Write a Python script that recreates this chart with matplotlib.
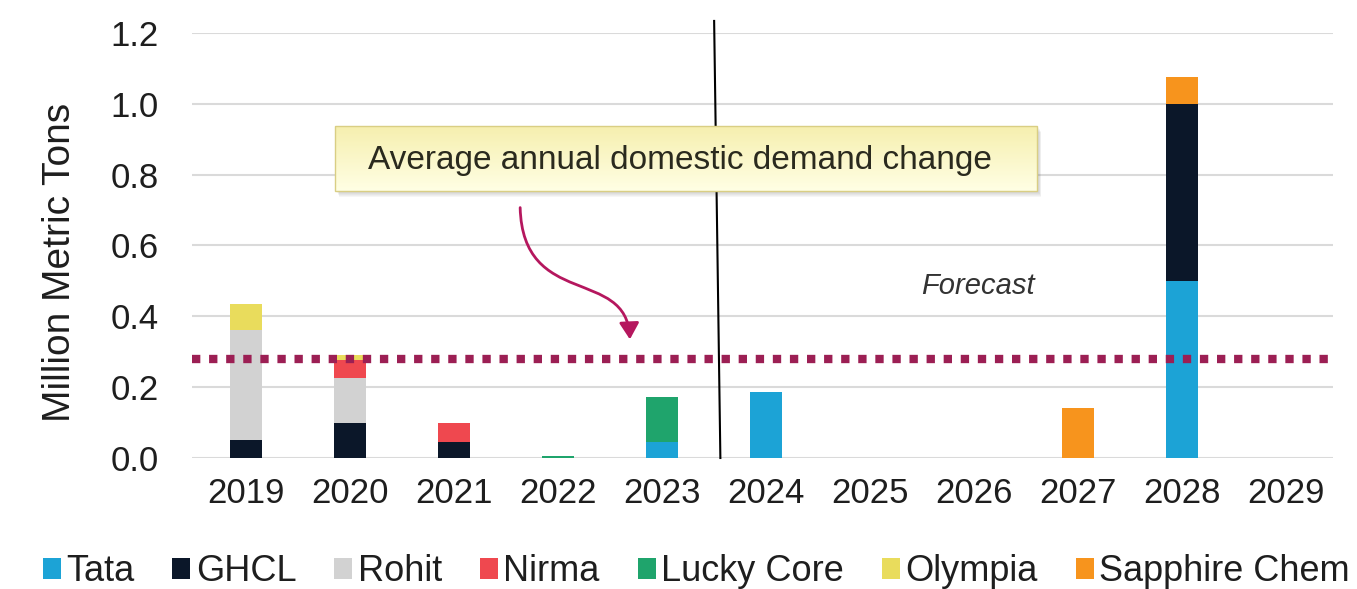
import matplotlib
matplotlib.use("Agg")
import matplotlib.pyplot as plt
import numpy as np
from matplotlib.patches import Rectangle, FancyArrowPatch, Patch
from matplotlib.path import Path
from matplotlib.colors import LinearSegmentedColormap

plt.rcParams['font.family'] = ['Liberation Sans', 'DejaVu Sans']

years = ["2019", "2020", "2021", "2022", "2023", "2024", "2025", "2026", "2027", "2028", "2029"]
companies = ["Tata", "GHCL", "Rohit", "Nirma", "Lucky Core", "Olympia", "Sapphire Chem"]
tata     = [0.00, 0.00,  0.00,  0.000, 0.045, 0.185, 0, 0, 0.00, 0.500, 0]
ghcl     = [0.05, 0.10,  0.045, 0.000, 0.000, 0.000, 0, 0, 0.00, 0.500, 0]
rohit    = [0.31, 0.125, 0.00,  0.000, 0.000, 0.000, 0, 0, 0.00, 0.000, 0]
nirma    = [0.00, 0.053, 0.055, 0.000, 0.000, 0.000, 0, 0, 0.00, 0.000, 0]
lucky    = [0.00, 0.00,  0.00,  0.007, 0.127, 0.000, 0, 0, 0.00, 0.000, 0]
olympia  = [0.075, 0.014, 0.00, 0.000, 0.000, 0.000, 0, 0, 0.00, 0.000, 0]
sapphire = [0.00, 0.00,  0.00,  0.000, 0.000, 0.000, 0, 0, 0.14, 0.075, 0]
series = [tata, ghcl, rohit, nirma, lucky, olympia, sapphire]
colors = ["#1CA3D6", "#0B1729", "#D2D2D2", "#EF484F", "#1FA46C", "#E9DC5C", "#F7941D"]
avg_demand_change = 0.28
forecast_split = 4.53

fig = plt.figure(figsize=(13.57, 5.89), dpi=100)
ax = fig.add_axes([0.1415, 0.2224, 0.8408, 0.7216])

x = np.arange(len(years))
bottom = np.zeros(len(years))
for vals, col, name in zip(series, colors, companies):
    v = np.array(vals)
    ax.bar(x, v, 0.31, bottom=bottom, color=col, label=name, zorder=3)
    bottom += v

ax.set_xlim(-0.52, 10.45)
ax.set_ylim(0, 1.2)
ax.set_yticks(np.arange(0, 1.21, 0.2))
ax.set_yticklabels([f"{t:.1f}" for t in np.arange(0, 1.21, 0.2)])
ax.set_xticks(x)
ax.set_xticklabels(years)
ax.tick_params(axis='both', length=0, labelsize=25, colors='#1E1E1E')
ax.tick_params(axis='y', pad=24)
ax.tick_params(axis='x', pad=14)
ax.grid(axis='y', color='#DADADA', lw=1.5, zorder=0)
for s in ax.spines.values():
    s.set_visible(False)
ax.set_ylabel("Million Metric Tons", fontsize=28, color='#1E1E1E')
ax.yaxis.set_label_coords(-0.1, 0.46)

# average demand line
ax.axhline(avg_demand_change, color='#9C1F54', lw=6, linestyle=(0, (1, 1.05)),
           dash_capstyle='butt', zorder=4)

# forecast divider
ax.plot([forecast_split - 0.03, forecast_split + 0.03], [1.234, 0], color='black',
        lw=1.5, clip_on=False, zorder=4)
ax.text(7.04, 0.487, "Forecast", fontsize=21, style='italic', color='#333333',
        ha='center', va='center', zorder=6)

# callout box with soft shadow and gradient
bx0, bx1, by0, by1 = 0.856, 7.606, 0.755, 0.938
px, py = 1 / 104, 1 / 355
for k in range(1, 8):
    ax.add_patch(Rectangle((bx0 + k * 0.6 * px, by0 - k * 0.9 * py), bx1 - bx0, by1 - by0,
                           facecolor='#404040', edgecolor='none', alpha=0.045, zorder=5))
cmap = LinearSegmentedColormap.from_list("callout", ["#FFFFE4", "#F6EFAF"])
grad = np.linspace(0, 1, 100).reshape(-1, 1)
ax.imshow(grad, extent=(bx0, bx1, by1, by0), cmap=cmap, aspect='auto', zorder=6,
          interpolation='bicubic')
ax.add_patch(Rectangle((bx0, by0), bx1 - bx0, by1 - by0, facecolor='none',
                       edgecolor='#D9CE84', lw=1, zorder=7))
ax.text(4.17, 0.841, "Average annual domestic demand change", fontsize=24,
        color='#2A2A1E', ha='center', va='center', zorder=8)
ax.set_xlim(-0.52, 10.45)
ax.set_ylim(0, 1.2)

# curved arrow
verts = [(2.635, 0.707), (2.66, 0.42), (3.66, 0.54), (3.69, 0.335)]
path = Path(verts, [Path.MOVETO, Path.CURVE4, Path.CURVE4, Path.CURVE4])
arrow = FancyArrowPatch(path=path, arrowstyle='-|>,head_length=10,head_width=6',
                        color='#B5175E', lw=2, zorder=6)
ax.add_patch(arrow)

handles = [Patch(facecolor=c, edgecolor='none') for c in colors]
fig.legend(handles, companies, loc='center', bbox_to_anchor=(0.513, 0.029), ncol=7,
           frameon=False, fontsize=26, handlelength=0.5, handleheight=0.5,
           handletextpad=0.15, columnspacing=1.05, labelcolor='#1E1E1E')

fig.savefig("out.png", dpi=100, facecolor='white')
